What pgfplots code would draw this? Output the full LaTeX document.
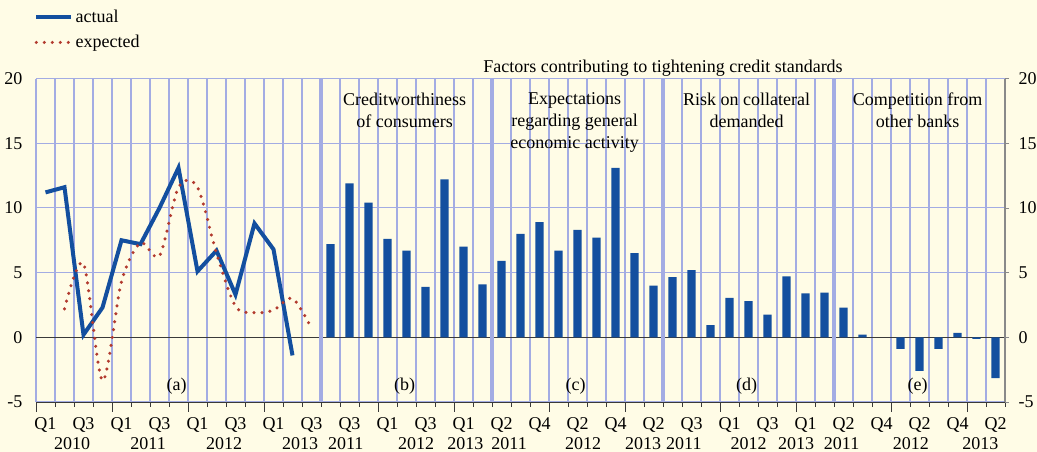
\documentclass[border=0pt]{standalone}
\usepackage{pgfplots}
\pgfplotsset{compat=1.18}
\usepackage{fontspec}
\setmainfont{Liberation Serif}
\definecolor{bg}{HTML}{FFFCE6}
\definecolor{gridc}{HTML}{A3ACE3}
\definecolor{barblue}{HTML}{134F9F}
\definecolor{redc}{HTML}{B23A2E}
\definecolor{axgray}{HTML}{8A8A8A}
\definecolor{axdark}{HTML}{3A3A3A}
\newcommand{\fs}{\fontsize{13.5}{15.5}\selectfont}
\begin{document}
\fs
\begin{tikzpicture}
\fill[bg] (-27pt,-37.5pt) rectangle (750.75pt,301.5pt);
\useasboundingbox (-27pt,-37.5pt) rectangle (750.75pt,301.5pt);
\begin{axis}[
  at={(0,0)}, anchor=south west,
  scale only axis, width=726.75pt, height=242.6pt,
  xmin=-0.5, xmax=50.5, ymin=-5, ymax=20,
  clip=false,
  font=\fs,
  axis x line*=bottom, axis y line*=left,
  x axis line style={draw=axdark, line width=0.6pt},
  y axis line style={draw=gridc, line width=0.8pt},
  ytick={-5,0,5,10,15,20},
  yticklabels={-5,0,5,10,15,20},
  ytick style={draw=none},
  yticklabel style={xshift=2pt},
  ymajorgrids,
  xtick={-0.5,3.5,7.5,11.5,17.5,21.5,26.5,30.5,35.5,39.5,44.5,48.5},
  xticklabels={},
  minor xtick={-0.5,0.5,...,50.5},
  xmajorgrids, xminorgrids,
  major grid style={draw=gridc, line width=0.8pt},
  minor grid style={draw=gridc, line width=0.8pt},
  tick align=outside,
  major tick length=7.5pt, minor tick length=3.75pt,
  xtick style={draw=axdark, line width=0.6pt},
  minor x tick style={draw=axdark, line width=0.6pt},
  extra x ticks={0,2,4,6,8,10,12,14,16,18,20,22,24,26,28,30,32,34,36,38,40,42,44,46,48,50},
  extra x tick labels={Q1,Q3,Q1,Q3,Q1,Q3,Q1,Q3,Q3,Q1,Q3,Q1,Q2,Q4,Q2,Q4,Q2,Q3,Q1,Q3,Q1,Q2,Q4,Q2,Q4,Q2},
  extra x tick style={grid=none, major tick length=0pt, xticklabel style={anchor=base, yshift=-21pt}},
  legend style={at={(axis description cs:-0.002,1.222)}, anchor=north west, draw=none, fill=none, inner sep=0pt, row sep=3.5pt, font=\fs},
  legend cell align=left,
  legend image code/.code={\draw[#1] (0pt,0pt) -- (26pt,0pt);},
]
% zero line and panel dividers
\draw[axdark, line width=0.7pt] (axis cs:-0.5,0) -- (axis cs:50.5,0);
\draw[gridc, line width=2.4pt] (axis cs:14.5,-5) -- (axis cs:14.5,20);
\draw[gridc, line width=2.4pt] (axis cs:23.5,-5) -- (axis cs:23.5,20);
\draw[gridc, line width=2.4pt] (axis cs:32.5,-5) -- (axis cs:32.5,20);
\draw[gridc, line width=2.4pt] (axis cs:41.5,-5) -- (axis cs:41.5,20);

\addplot[ybar, bar width=0.44, fill=barblue, draw=none, forget plot] coordinates {
 (15,7.2) (16,11.9) (17,10.4) (18,7.6) (19,6.7) (20,3.9) (21,12.2) (22,7.0) (23,4.1)
 (24,5.9) (25,8.0) (26,8.9) (27,6.7) (28,8.3) (29,7.7) (30,13.1) (31,6.5) (32,4.0)
 (33,4.65) (34,5.2) (35,0.95) (36,3.05) (37,2.8) (38,1.75) (39,4.7) (40,3.4) (41,3.45)
 (42,2.3) (43,0.2) (45,-0.9) (46,-2.6) (47,-0.9) (48,0.35) (49,-0.12) (50,-3.15)
};

\addplot[barblue, line width=3pt, mark=none] coordinates {
 (0,11.2) (1,11.6) (2,0.2) (3,2.3) (4,7.5) (5,7.2) (6,10.0) (7,13.1)
 (8,5.1) (9,6.7) (10,3.3) (11,8.8) (12,6.8) (13,-1.4)
};
\addlegendentry{actual}
\addplot[redc, line width=2.6pt, line cap=round, dash pattern=on 0pt off 6pt, smooth, mark=none] coordinates {
 (1,2.2) (2,5.7) (3,-3.35) (4,4.3) (5,7.3) (6,6.3) (7,11.6) (8,11.6)
 (9,6.5) (10,2.4) (11,1.9) (12,2.1) (13,3.0) (14,0.7)
};
\addlegendentry{expected}

% headings
\node[anchor=base] at (axis cs:32.5,20.5) {Factors contributing to tightening credit standards};
\node[anchor=north, align=center, inner sep=0pt, font=\fontsize{13.5}{16.5}\selectfont] at (axis cs:18.9,18.9) {Creditworthiness\\of consumers};
\node[anchor=north, align=center, inner sep=0pt, font=\fontsize{13.5}{16.5}\selectfont] at (axis cs:27.85,18.9) {Expectations\\regarding general\\economic activity};
\node[anchor=north, align=center, inner sep=0pt, font=\fontsize{13.5}{16.5}\selectfont] at (axis cs:36.9,18.9) {Risk on collateral\\demanded};
\node[anchor=north, align=center, inner sep=0pt, font=\fontsize{13.5}{16.5}\selectfont] at (axis cs:45.9,18.9) {Competition from\\other banks};
% panel letters
\node[anchor=base] at (axis cs:6.9,-4.1) {(a)};
\node[anchor=base] at (axis cs:18.9,-4.1) {(b)};
\node[anchor=base] at (axis cs:27.9,-4.1) {(c)};
\node[anchor=base] at (axis cs:36.9,-4.1) {(d)};
\node[anchor=base] at (axis cs:45.9,-4.1) {(e)};
% years
\node[anchor=base, yshift=-35.8pt] at (axis cs:1.4,-5) {2010};
\node[anchor=base, yshift=-35.8pt] at (axis cs:5.4,-5) {2011};
\node[anchor=base, yshift=-35.8pt] at (axis cs:9.4,-5) {2012};
\node[anchor=base, yshift=-35.8pt] at (axis cs:13.4,-5) {2013};
\node[anchor=base, yshift=-35.8pt] at (axis cs:15.8,-5) {2011};
\node[anchor=base, yshift=-35.8pt] at (axis cs:19.5,-5) {2012};
\node[anchor=base, yshift=-35.8pt] at (axis cs:22.1,-5) {2013};
\node[anchor=base, yshift=-35.8pt] at (axis cs:24.4,-5) {2011};
\node[anchor=base, yshift=-35.8pt] at (axis cs:28.3,-5) {2012};
\node[anchor=base, yshift=-35.8pt] at (axis cs:31.45,-5) {2013};
\node[anchor=base, yshift=-35.8pt] at (axis cs:33.6,-5) {2011};
\node[anchor=base, yshift=-35.8pt] at (axis cs:37.0,-5) {2012};
\node[anchor=base, yshift=-35.8pt] at (axis cs:39.5,-5) {2013};
\node[anchor=base, yshift=-35.8pt] at (axis cs:41.9,-5) {2011};
\node[anchor=base, yshift=-35.8pt] at (axis cs:45.55,-5) {2012};
\node[anchor=base, yshift=-35.8pt] at (axis cs:49.2,-5) {2013};
\end{axis}
\begin{axis}[
  at={(0,0)}, anchor=south west,
  scale only axis, width=726.75pt, height=242.6pt,
  xmin=-0.5, xmax=50.5, ymin=-5, ymax=20,
  font=\fs,
  axis x line=none, axis y line*=right,
  y axis line style={draw=axgray, line width=0.8pt},
  ytick={-5,0,5,10,15,20},
  yticklabels={-5,0,5,10,15,20},
  tick align=outside, major tick length=3pt,
  ytick style={draw=axgray, line width=0.6pt},
  yticklabel style={xshift=2.5pt},
]
\addplot[draw=none, forget plot] coordinates {(0,0)};
\end{axis}
\end{tikzpicture}
\end{document}
